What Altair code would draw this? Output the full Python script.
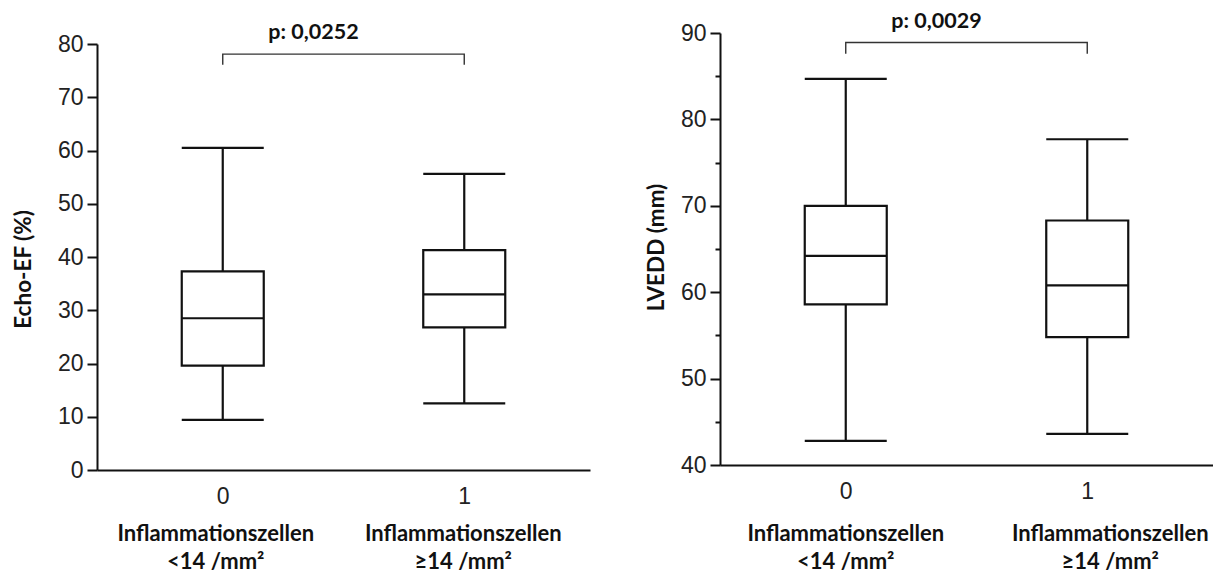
import altair as alt
import pandas as pd

# ---------------- data ----------------
groups = [0, 1]
group_line1 = ["Inflammationszellen", "Inflammationszellen"]
group_line2 = ["<14 /mm²", "≥14 /mm²"]

# Echo-EF (%)
ef_min = [9.4, 12.5]
ef_q1 = [19.6, 26.8]
ef_med = [28.5, 33.0]
ef_q3 = [37.3, 41.3]
ef_max = [60.5, 55.6]
ef_p = "p: 0,0252"
ef_p_y = 80.9
ef_bracket = [76.1, 78.1]   # foot, top

# LVEDD (mm)
lv_min = [42.8, 43.6]
lv_q1 = [58.6, 54.8]
lv_med = [64.2, 60.8]
lv_q3 = [70.0, 68.3]
lv_max = [84.7, 77.7]
lv_p = "p: 0,0029"
lv_p_y = 90.6
lv_bracket = [87.6, 88.9]

NUM_FONT = "Liberation Sans Narrow, Liberation Sans, Arial, sans-serif"
BOLD_FONT = "Lato, Carlito, Calibri, sans-serif"
INK = "#111111"
W = 493


def panel(mins, q1s, meds, q3s, maxs, ydom, yrange, height, ystep, title,
          title_x, title_y, p_text, p_y, bracket, label_dx):
    df = pd.DataFrame({"g": groups, "lo": mins, "q1": q1s, "med": meds,
                       "q3": q3s, "hi": maxs,
                       "name": [[a, b] for a, b in zip(group_line1, group_line2)]})
    xscale = alt.Scale(domain=[-0.5, 1.5], nice=False, zero=False)
    yscale = alt.Scale(domain=ydom, range=yrange, nice=False, zero=False)
    yvals = list(range(ydom[0], ydom[1] + 1, ystep // 2))
    x = alt.X("g:Q", scale=xscale, title=None,
              axis=alt.Axis(values=[0, 0.5, 1], format="d",
                            labelExpr="datum.value == 0.5 ? '' : datum.label",
                            tickSize=10,
                            tickOpacity={"condition": {"test": "datum.value == 0.5", "value": 1}, "value": 0},
                            labelFontSize=23, labelPadding=5, labelAngle=0))
    yaxis = alt.Axis(values=yvals, format="d",
                     labelExpr=f"datum.value % {ystep} == 0 ? datum.label : ''",
                     tickSize={"condition": {"test": f"datum.value % {ystep} == 0", "value": 10}, "value": 5},
                     labelFontSize=23, labelPadding=4,
                     title=title, titleX=title_x, titleY=title_y,
                     titleAlign="center", titleBaseline="middle", titleAngle=270)
    base = alt.Chart(df)
    whisk = base.mark_rule(color=INK, strokeWidth=2.2).encode(
        x=x, y=alt.Y("lo:Q", scale=yscale, axis=yaxis), y2="hi:Q")
    box = base.mark_bar(size=82, fill="white", stroke=INK, strokeWidth=2.2).encode(
        x=x, y=alt.Y("q1:Q", scale=yscale), y2="q3:Q")
    ticks = base.transform_fold(["lo", "med", "hi"], as_=["k", "v"]).mark_tick(
        orient="horizontal", size=82, thickness=2.2, color=INK, opacity=1).encode(
        x=x, y=alt.Y("v:Q", scale=yscale))
    bdf = pd.DataFrame({"g": [0, 0, 1, 1],
                        "y": [bracket[0], bracket[1], bracket[1], bracket[0]],
                        "o": [0, 1, 2, 3]})
    br = alt.Chart(bdf).mark_line(color="#333333", strokeWidth=1.4).encode(
        x=x, y=alt.Y("y:Q", scale=yscale), order="o:Q")
    pdf = pd.DataFrame({"g": [0.5], "y": [p_y], "t": [p_text]})
    ptxt = alt.Chart(pdf).mark_text(font=BOLD_FONT, fontWeight="bold", fontSize=21.5,
                                    baseline="alphabetic", dx=-30, color=INK).encode(
        x=x, y=alt.Y("y:Q", scale=yscale), text="t:N")
    labels = []
    for i, g in enumerate(groups):
        labels.append(base.transform_filter(alt.datum.g == g).mark_text(
            font=BOLD_FONT, fontWeight="bold", fontSize=22, baseline="alphabetic",
            lineHeight=28, dx=label_dx[i], color=INK).encode(
            x=x, y=alt.value(508), text="name"))
    return alt.layer(whisk, box, ticks, br, ptxt, *labels).properties(width=W, height=height)


left = panel(ef_min, ef_q1, ef_med, ef_q3, ef_max, [0, 80], [437, 11], 437, 10,
             "Echo-EF (%)", -74, 236, ef_p, ef_p_y, ef_bracket, [-7, -1])
right = panel(lv_min, lv_q1, lv_med, lv_q3, lv_max, [40, 90], [432, 0], 432, 10,
              "LVEDD (mm)", -64, 214, lv_p, lv_p_y, lv_bracket, [0, 23])

chart = alt.hconcat(left, right, spacing=130, bounds="flush").properties(
    padding={"left": 12, "top": 10, "right": 0, "bottom": 0},
).configure_view(stroke=None).configure_axis(
    domainColor=INK, domainWidth=2, tickColor=INK, tickWidth=2,
    labelFont=NUM_FONT, labelColor="#222222", grid=False,
    titleFont=BOLD_FONT, titleFontWeight="bold", titleColor=INK, titleFontSize=22.5,
)

chart.save("out.html", embed_options={"renderer": "svg", "actions": False})
